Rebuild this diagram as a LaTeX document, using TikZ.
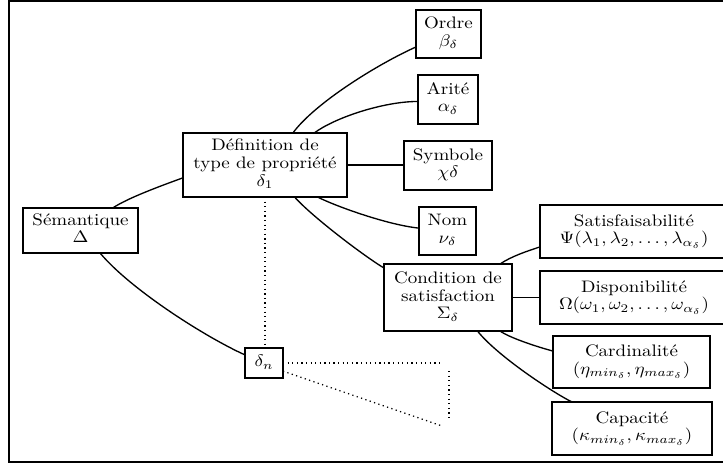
\documentclass[tikz,border=0pt]{standalone}
\usepackage{graphicx}
\usetikzlibrary{calc}
\newcommand{\lbl}[1]{\scalebox{1.14}[1]{\begin{tabular}{@{}c@{}}#1\end{tabular}}}
\tikzset{
  bx/.style 2 args={draw, line width=0.9pt, minimum width=#1*0.6pt, minimum height=#2*0.6pt,
    inner sep=1pt, outer sep=0pt, font=\fontsize{10}{10.6}\selectfont},
  conn/.style={line width=0.8pt},
  dots/.style={line width=0.75pt, dotted},
}
\begin{document}
\begin{tikzpicture}[x=0.6pt, y=-0.6pt]
\useasboundingbox (0,0) rectangle (723,465);
\clip (0,0) rectangle (723,465);
\draw[line width=1.2pt] (9,1) rectangle (745,462);

\node[bx={115}{45}]  (sem)   at (80.5,230.5) {\lbl{Sémantique\\$\Delta$}};
\node[bx={164}{64}]  (def)   at (265,165)    {\lbl{Définition de\\type de propriété\\$\delta_1$}};
\node[bx={65}{48}]   (ordre) at (448.5,34)   {\lbl{Ordre\\$\beta_\delta$}};
\node[bx={60}{49}]   (arite) at (448,99.5)   {\lbl{Arité\\$\alpha_\delta$}};
\node[bx={88}{49}]   (symb)  at (448,165.5)  {\lbl{Symbole\\$\chi\delta$}};
\node[bx={57}{48}]   (nom)   at (447.5,231)  {\lbl{Nom\\$\nu_\delta$}};
\node[bx={128}{67}]  (cond)  at (448,297.5)  {\lbl{Condition de\\satisfaction\\$\Sigma_\delta$}};
\node[bx={188}{53}]  (satis) at (634,231.5)  {\lbl{Satisfaisabilité\\$\Psi(\lambda_1,\lambda_2,\ldots,\lambda_{\alpha_\delta})$}};
\node[bx={188}{53}]  (disp)  at (634,297.5)  {\lbl{Disponibilité\\$\Omega(\omega_1,\omega_2,\ldots,\omega_{\alpha_\delta})$}};
\node[bx={157}{52}]  (card)  at (631.5,362)  {\lbl{Cardinalité\\$(\eta_{min_\delta},\eta_{max_\delta})$}};
\node[bx={160}{53}]  (capa)  at (632,428.5)  {\lbl{Capacité\\$(\kappa_{min_\delta},\kappa_{max_\delta})$}};
\node[bx={38}{30}]   (dn)    at (264,363)    {\lbl{$\delta_n$}};

\coordinate (t1) at (442,363);
\coordinate (t2) at (449,371);
\coordinate (t3) at (449,420);
\coordinate (t4) at (442,426);

% connectors
\draw[conn] ($(sem.north west)!0.78!(sem.north east)$) .. controls +(15,-10) and +(-22,8) .. ($(def.north west)!0.70!(def.south west)$);
\draw[conn] ($(sem.south west)!0.67!(sem.south east)$) .. controls +(30,36) and +(-40,-18) .. ($(dn.north west)!0.23!(dn.south west)$);
\draw[conn] ($(def.north west)!0.67!(def.north east)$) .. controls +(22,-30) and +(-38,17) .. ($(ordre.north west)!0.77!(ordre.south west)$);
\draw[conn] ($(def.north west)!0.80!(def.north east)$) .. controls +(20,-15) and +(-35,0) .. ($(arite.north west)!0.54!(arite.south west)$);
\draw[conn] (def.east) -- (def.east -| symb.west);
\draw[conn] ($(def.south west)!0.82!(def.south east)$) .. controls +(20,10) and +(-30,-3) .. ($(nom.north west)!0.44!(nom.south west)$);
\draw[conn] ($(def.south west)!0.68!(def.south east)$) .. controls +(18,20) and +(-20,-12) .. ($(cond.north west)!0.06!(cond.south west)$);
\draw[conn] ($(cond.north west)!0.906!(cond.north east)$) .. controls +(12,-8) and +(-12,4) .. ($(satis.north west)!0.79!(satis.south west)$);
\draw[conn] (cond.east) -- (cond.east -| disp.west);
\draw[conn] ($(cond.south west)!0.906!(cond.south east)$) .. controls +(10,7) and +(-15,-4) .. ($(card.north west)!0.29!(card.south west)$);
\draw[conn] ($(cond.south west)!0.73!(cond.south east)$) .. controls +(20,25) and +(-20,-10) .. ($(capa.north west)!0.125!(capa.north east)$);

% dotted
\draw[dots] (def.south) -- (def.south |- dn.north);
\draw[dots] (dn.east) -- (t1);
\draw[dots] (t2) -- (t3);
\draw[dots] ($(dn.north east)!0.77!(dn.south east)$) -- (t4);
\end{tikzpicture}
\end{document}
